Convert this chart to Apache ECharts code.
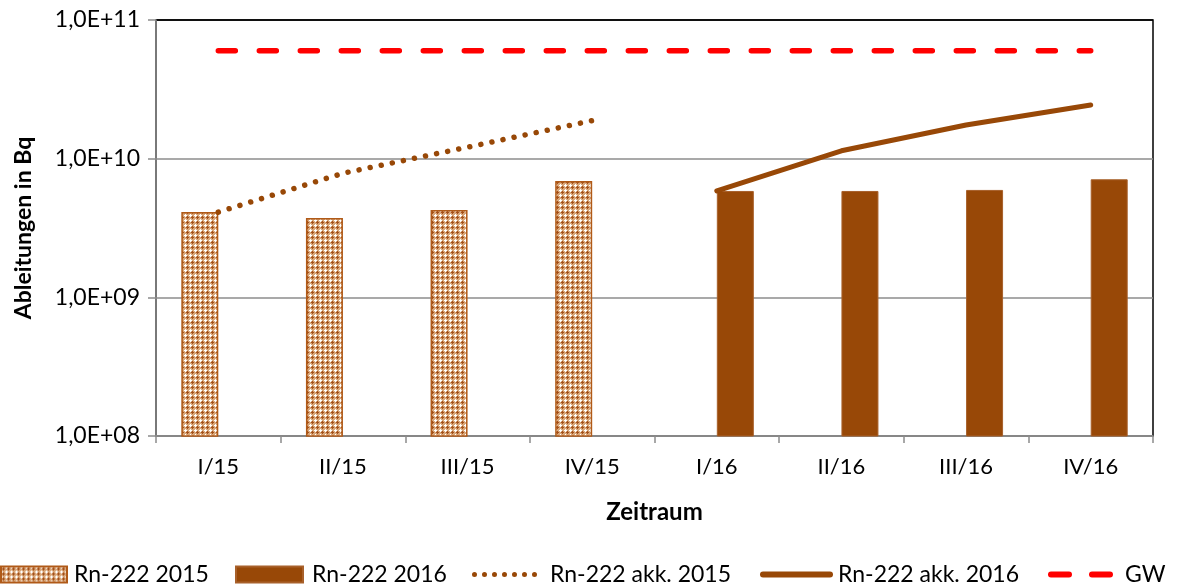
<!DOCTYPE html>
<html>
<head>
<meta charset="utf-8">
<script src="https://cdn.jsdelivr.net/npm/echarts@6/dist/echarts.min.js"></script>
<style>
html,body{margin:0;padding:0;background:#fff;}
#chart{width:1178px;height:588px;}
</style>
</head>
<body>
<div id="chart"></div>
<script>
// ---- data ----
var categories = ['I/15','II/15','III/15','IV/15','I/16','II/16','III/16','IV/16'];
var rn2015 = [4.12e9, 3.73e9, 4.27e9, 6.9e9, null, null, null, null];
var rn2016 = [null, null, null, null, 5.85e9, 5.85e9, 5.95e9, 7.1e9];
var akk2015 = [4.12e9, 7.85e9, 1.21e10, 1.88e10, null, null, null, null];
var akk2016 = [null, null, null, null, 5.85e9, 1.14e10, 1.75e10, 2.44e10];
var gw = [6.0e10, 6.0e10, 6.0e10, 6.0e10, 6.0e10, 6.0e10, 6.0e10, 6.0e10];
var yTicks = ['1,0E+08','1,0E+09','1,0E+10','1,0E+11'];

// ---- pattern fill for 2015 bars ----
function makePattern() {
  var c = document.createElement('canvas');
  c.width = 5; c.height = 5;
  var g = c.getContext('2d');
  g.fillStyle = '#d9a77a';
  g.fillRect(0,0,5,5);
  g.fillStyle = '#a4501a';
  [[2,1],[1,2],[2,2],[3,2],[2,3]].forEach(function(p){ g.fillRect(p[0],p[1],1,1); });
  g.fillStyle = '#ffffff';
  [[0,0],[1,0],[4,0],[0,1],[0,4]].forEach(function(p){ g.fillRect(p[0],p[1],1,1); });
  return c;
}
var pat = makePattern();
var brown = '#984807';
var FONT = 'Lato';

// legend icon paths
function dotsPath() {
  var s = '';
  for (var i = 0; i < 7; i++) {
    var cx = 2.5 + i * 10;
    s += 'M' + (cx - 2.5) + ',2.5a2.5,2.5 0 1,0 5,0a2.5,2.5 0 1,0 -5,0Z';
  }
  return 'path://' + s;
}
var solidPath = 'path://M3,0H70A3,3 0 0,1 70,6H3A3,3 0 0,1 3,0Z';
var dashPath = 'path://M3,0H21A3,3 0 0,1 21,6H3A3,3 0 0,1 3,0ZM44,0H62A3,3 0 0,1 62,6H44A3,3 0 0,1 44,0Z';

var chart = echarts.init(document.getElementById('chart'), null, {renderer:'canvas'});
function legendAt(name, left, w, h, icon, gap) {
  return {
    data: [{name: name, icon: icon}], left: left, top: 563, itemWidth: w, itemHeight: h,
    textStyle: {fontFamily: FONT, fontSize: 23, color: '#000', padding: [0,0,0,gap]},
    selectedMode: false, padding: 0
  };
}
var option = {
  animation: false,
  textStyle: {fontFamily: FONT},
  grid: {left: 156, right: 25, top: 20, bottom: 152, show: true, borderColor: '#000', borderWidth: 1.5, backgroundColor: 'transparent'},
  legend: [
    legendAt('Rn-222 2015', 0, 66, 16, 'rect', 2),
    legendAt('Rn-222 2016', 235, 67, 16, 'rect', 4),
    legendAt('Rn-222 akk. 2015', 472, 65, 5, dotsPath(), 8),
    legendAt('Rn-222 akk. 2016', 760, 73, 6, solidPath, 0),
    legendAt('GW', 1048, 65, 6, dashPath, 7)
  ],
  xAxis: {
    type: 'category', data: categories,
    axisLine: {lineStyle: {color: '#8c8c8c', width: 1.5}},
    axisTick: {show: true, length: 7, lineStyle: {color: '#8c8c8c', width: 1.5}},
    axisLabel: {fontFamily: FONT, fontSize: 22, color: '#000', margin: 20},
    name: 'Zeitraum', nameLocation: 'middle', nameGap: 64,
    nameTextStyle: {fontFamily: FONT, fontSize: 24, fontWeight: 'bold', color: '#000'}
  },
  yAxis: {
    type: 'log', logBase: 10, min: 1e8, max: 1e11,
    axisLine: {show: true, lineStyle: {color: '#8c8c8c', width: 1.5}},
    axisTick: {show: true, length: 8, inside: false, lineStyle: {color: '#8c8c8c', width: 1.5}},
    axisLabel: {fontFamily: FONT, fontSize: 23, color: '#000', margin: 16,
      formatter: function(v){ var e = Math.round(Math.log10(v)); return yTicks[e-8]; }},
    splitLine: {show: true, lineStyle: {color: ['#8c8c8c','#8c8c8c','#8c8c8c','#000'], width: 1.5}},
    name: 'Ableitungen in Bq', nameLocation: 'middle', nameGap: 121,
    nameTextStyle: {fontFamily: FONT, fontSize: 23, fontWeight: 'bold', color: '#000'}
  },
  series: [
    {name: 'Rn-222 2015', type: 'bar', data: rn2015, barWidth: 37, barGap: '0%',
      itemStyle: {color: {image: pat, repeat: 'repeat'}, borderColor: '#b05a18', borderWidth: 1.5}},
    {name: 'Rn-222 2016', type: 'bar', data: rn2016, barWidth: 37, barGap: '0%',
      itemStyle: {color: brown, borderColor: '#a8602a', borderWidth: 1}},
    {name: 'Rn-222 akk. 2015', type: 'line', data: akk2015, symbol: 'none', showSymbol: false,
      itemStyle: {color: brown},
      lineStyle: {color: brown, width: 5.5, type: [0.01, 11.3], cap: 'round'}},
    {name: 'Rn-222 akk. 2016', type: 'line', data: akk2016, symbol: 'none', showSymbol: false,
      itemStyle: {color: brown},
      lineStyle: {color: brown, width: 5, cap: 'round', join: 'round'}},
    {name: 'GW', type: 'line', data: gw, symbol: 'none', showSymbol: false,
      itemStyle: {color: '#ff0000'},
      lineStyle: {color: '#ff0000', width: 5.5, type: [17, 24], cap: 'round'}}
  ]
};
chart.setOption(option);
</script>
</body>
</html>
